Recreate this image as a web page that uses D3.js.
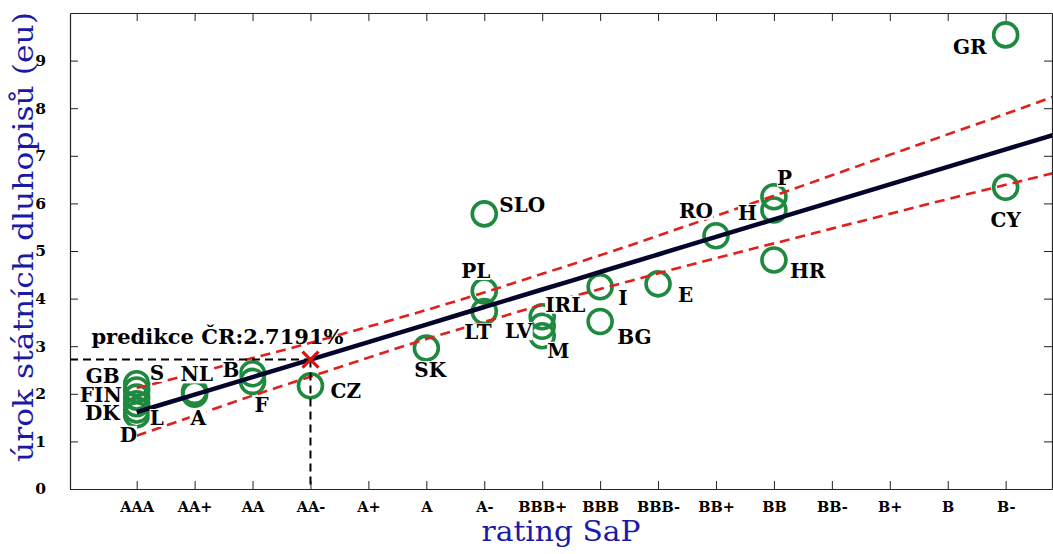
<!DOCTYPE html>
<html>
<head>
<meta charset="utf-8">
<script src="https://cdn.jsdelivr.net/npm/d3@7"></script>
<style>
  body { margin: 0; background: #fff; }
  svg { display: block; }
</style>
</head>
<body>
<svg id="chart" width="1053" height="554"></svg>
<script>
// S&P rating scale shown on the x axis
const ratings = ["AAA","AA+","AA","AA-","A+","A","A-","BBB+","BBB","BBB-","BB+","BB","BB-","B+","B","B-"];
const yTicks = [0,1,2,3,4,5,6,7,8,9];

// Government bond yields (%) by country and rating
const countries = ["GB","S","FIN","DK","L","D","NL","A","B","F","CZ","SK","SLO","PL","LT","IRL","LV","M","I","BG","E","RO","P","H","HR","GR","CY"];
const countryRating = ["AAA","AAA","AAA","AAA","AAA","AAA","AA+","AA+","AA","AA","AA-","A","A-","A-","A-","BBB+","BBB+","BBB+","BBB","BBB","BBB-","BB+","BB","BB","BB","B-","B-"];
const bondYield = [2.21,2.08,1.93,1.79,1.66,1.56,2.05,1.99,2.42,2.26,2.17,2.96,5.78,4.16,3.73,3.62,3.42,3.22,4.25,3.52,4.31,5.32,6.14,5.86,4.81,9.54,6.34];

// Regression line and its interval band, sampled at rating positions 1..17
const bandRank = [1,2,3,4,5,6,7,8,9,10,11,12,13,14,15,16,17];
const fitValue = [1.615,1.983,2.351,2.719,3.087,3.455,3.823,4.191,4.559,4.927,5.295,5.663,6.031,6.399,6.767,7.135,7.503];
const upperBand = [2.12,2.43,2.75,3.07,3.41,3.76,4.13,4.52,4.91,5.32,5.74,6.16,6.59,7.02,7.45,7.88,8.32];
const lowerBand = [1.12,1.54,1.96,2.36,2.76,3.15,3.51,3.87,4.20,4.53,4.85,5.16,5.47,5.78,6.09,6.39,6.69];

// Prediction for the Czech Republic
const predictionRating = "AA-";
const predictionValue = 2.7191;

// ---- layout ----
const plot = { left: 70, top: 13, right: 1052, bottom: 489 };
const serif = "'DejaVu Serif', serif";
const titleBlue = "#1a1aa6";

// label placement around each point: anchor, dx, dy (px from circle centre)
const labelLayout = {
  GB: ["end",-17,-1], S: ["start",13,-10], FIN: ["end",-15,5], DK: ["end",-17,16],
  L: ["start",13,15], D: ["start",-17,27], NL: ["start",-14,-10], A: ["start",-4,31],
  B: ["start",-30,3], F: ["start",2,31], CZ: ["start",20,12], SK: ["start",-12,29],
  SLO: ["start",15,-2], PL: ["start",-23,-13], LT: ["start",-20,28], IRL: ["start",3,-5],
  LV: ["end",-10,12], M: ["start",5,22], I: ["start",18,18], BG: ["start",17,23],
  E: ["start",20,18], RO: ["end",-3,-18], P: ["start",3,-12], H: ["end",-17,10],
  HR: ["start",16,18], GR: ["end",-19,19], CY: ["middle",0,40]
};

const svg = d3.select("#chart");
const rankOf = r => ratings.indexOf(r) + 1;

const x = d3.scaleLinear().domain([-0.151, 16.80]).range([plot.left, plot.right]);
const y = d3.scaleLinear().domain([0, 10]).range([plot.bottom, plot.top]);

svg.append("defs").append("clipPath").attr("id", "plotClip")
  .append("rect")
  .attr("x", plot.left).attr("y", plot.top)
  .attr("width", plot.right - plot.left).attr("height", plot.bottom - plot.top);

// ---- axes (ticks point inward on all four sides) ----
const tickRanks = ratings.map((r, i) => i + 1);
const axisColor = "#222";

const xAxis = svg.append("g")
  .attr("transform", `translate(0,${plot.bottom})`)
  .call(d3.axisBottom(x).tickValues(tickRanks).tickSize(-8).tickSizeOuter(0).tickPadding(13)
    .tickFormat(d => ratings[d - 1]));
svg.append("g")
  .attr("transform", `translate(0,${plot.top})`)
  .call(d3.axisTop(x).tickValues(tickRanks).tickSize(-8).tickSizeOuter(0).tickFormat(""));
const yAxis = svg.append("g")
  .attr("transform", `translate(${plot.left},0)`)
  .call(d3.axisLeft(y).tickValues(yTicks).tickSize(-8).tickSizeOuter(0).tickPadding(24)
    .tickFormat(d3.format("d")));
svg.append("g")
  .attr("transform", `translate(${plot.right},0)`)
  .call(d3.axisRight(y).tickValues(yTicks).tickSize(-8).tickSizeOuter(0).tickFormat(""));

svg.selectAll(".domain").attr("stroke", axisColor).attr("stroke-width", 1.2);
svg.selectAll(".tick line").attr("stroke", axisColor).attr("stroke-width", 1);

xAxis.selectAll("text")
  .attr("font-family", serif).attr("font-weight", "bold").attr("font-size", 14.5)
  .attr("fill", "#000");
yAxis.selectAll("text")
  .attr("font-family", serif).attr("font-weight", "bold").attr("font-size", 15.5)
  .attr("fill", "#000");

// ---- axis titles ----
svg.append("text")
  .attr("x", (plot.left + plot.right) / 2).attr("y", 541)
  .attr("text-anchor", "middle")
  .attr("font-family", serif).attr("font-size", 28).attr("fill", titleBlue)
  .attr("textLength", 159).attr("lengthAdjust", "spacingAndGlyphs")
  .text("rating SaP");

svg.append("text")
  .attr("transform", "translate(33,237) rotate(-90)")
  .attr("text-anchor", "middle")
  .attr("font-family", serif).attr("font-size", 28).attr("fill", titleBlue)
  .attr("textLength", 450).attr("lengthAdjust", "spacingAndGlyphs")
  .text("úrok státních dluhopisů (eu)");

// ---- data points ----
const points = countries.map((c, i) => ({
  name: c, rank: rankOf(countryRating[i]), value: bondYield[i]
}));

const plotArea = svg.append("g").attr("clip-path", "url(#plotClip)");

plotArea.selectAll("circle.country")
  .data(points).join("circle")
  .attr("class", "country")
  .attr("cx", d => x(d.rank)).attr("cy", d => y(d.value))
  .attr("r", 12)
  .attr("fill", "none").attr("stroke", "#1f8a3f").attr("stroke-width", 3.6);

// ---- regression line and band ----
const bandLine = vals => d3.line()
  .x((d, i) => x(bandRank[i]))
  .y(d => y(d))
  .curve(d3.curveNatural)(vals);

plotArea.append("path")
  .attr("d", bandLine(fitValue))
  .attr("fill", "none").attr("stroke", "#05052c").attr("stroke-width", 4.5);

[upperBand, lowerBand].forEach(b => {
  plotArea.append("path")
    .attr("d", bandLine(b))
    .attr("fill", "none").attr("stroke", "#e0201c").attr("stroke-width", 2.6)
    .attr("stroke-dasharray", "10,6");
});

// ---- prediction guides ----
const px = x(rankOf(predictionRating)), py = y(predictionValue);
plotArea.append("line")
  .attr("x1", plot.left).attr("x2", px).attr("y1", py).attr("y2", py)
  .attr("stroke", "#000").attr("stroke-width", 2).attr("stroke-dasharray", "8,5");
plotArea.append("line")
  .attr("x1", px).attr("x2", px).attr("y1", py).attr("y2", plot.bottom)
  .attr("stroke", "#000").attr("stroke-width", 2).attr("stroke-dasharray", "8,5");

const cs = 8;
plotArea.append("path")
  .attr("d", `M${px - cs},${py - cs}L${px + cs},${py + cs}M${px - cs},${py + cs}L${px + cs},${py - cs}`)
  .attr("stroke", "#e01010").attr("stroke-width", 3.2).attr("fill", "none");

svg.append("text")
  .attr("x", px + 33).attr("y", py - 16)
  .attr("text-anchor", "end")
  .attr("font-family", serif).attr("font-weight", "bold").attr("font-size", 21)
  .attr("fill", "#000")
  .text("predikce ČR:" + predictionValue + "%");

// ---- country labels with white backgrounds ----
const labels = svg.append("g");
points.forEach(p => {
  const [anchor, dx, dy] = labelLayout[p.name];
  const g = labels.append("g");
  const t = g.append("text")
    .attr("x", x(p.rank) + dx).attr("y", y(p.value) + dy)
    .attr("text-anchor", anchor)
    .attr("font-family", serif).attr("font-weight", "bold").attr("font-size", 20)
    .attr("fill", "#000")
    .text(p.name);
  const bb = t.node().getBBox();
  g.insert("rect", "text")
    .attr("x", bb.x).attr("y", bb.y + 3)
    .attr("width", bb.width).attr("height", bb.height - 6)
    .attr("fill", "#fff");
});
</script>
</body>
</html>
